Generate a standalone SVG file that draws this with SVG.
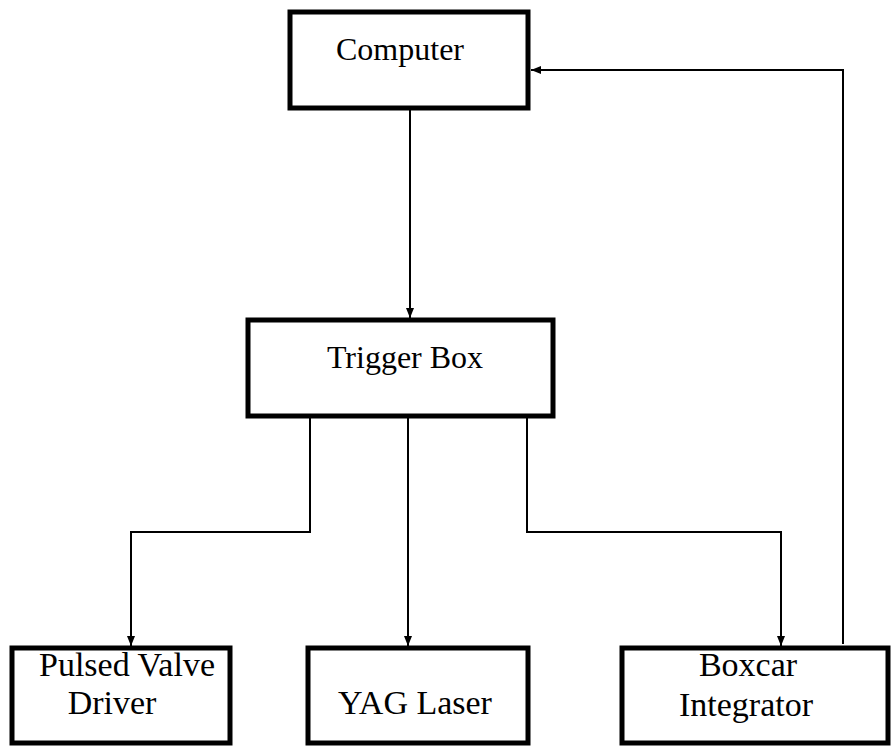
<svg xmlns="http://www.w3.org/2000/svg" width="891" height="746" viewBox="0 0 891 746">
<style>
.box{fill:#fff;stroke:#000;stroke-width:5}
.lbl{font-family:"Liberation Serif","Times New Roman",serif;font-size:32px;fill:#000}
.big{font-size:34px}
.con{fill:none;stroke:#000;stroke-width:2}
</style>
<defs>
<marker id="ah" viewBox="0 0 10 10" refX="10" refY="5" markerWidth="10" markerHeight="10" markerUnits="userSpaceOnUse" orient="auto">
<path d="M0,1 L10,5 L0,9 Z" fill="#000"/>
</marker>
</defs>
<rect width="891" height="746" fill="#fff"/>
<g id="connectors">
<path class="con" d="M410,108 V318" marker-end="url(#ah)"/>
<path class="con" d="M310,418 V532 H131 V646" marker-end="url(#ah)"/>
<path class="con" d="M408,418 V646" marker-end="url(#ah)"/>
<path class="con" d="M527,418 V532 H781 V646" marker-end="url(#ah)"/>
<path class="con" d="M843,644 V70 H531" marker-end="url(#ah)"/>
</g>
<g id="computer">
<rect class="box" x="290" y="12" width="238" height="96"/>
<text class="lbl" x="400" y="60" text-anchor="middle">Computer</text>
</g>
<g id="trigger">
<rect class="box" x="248" y="320" width="305" height="96"/>
<text class="lbl" x="405" y="368" text-anchor="middle">Trigger Box</text>
</g>
<g id="pulsed">
<rect class="box" x="12" y="648" width="218" height="95"/>
<text class="lbl big" x="127" y="676" text-anchor="middle">Pulsed Valve</text>
<text class="lbl big" x="112" y="714" text-anchor="middle">Driver</text>
</g>
<g id="yag">
<rect class="box" x="308" y="648" width="220" height="95"/>
<text class="lbl big" x="415" y="714" text-anchor="middle">YAG Laser</text>
</g>
<g id="boxcar">
<rect class="box" x="622" y="648" width="266" height="95"/>
<text class="lbl big" x="748" y="676" text-anchor="middle">Boxcar</text>
<text class="lbl big" x="746" y="716" text-anchor="middle">Integrator</text>
</g>
</svg>
